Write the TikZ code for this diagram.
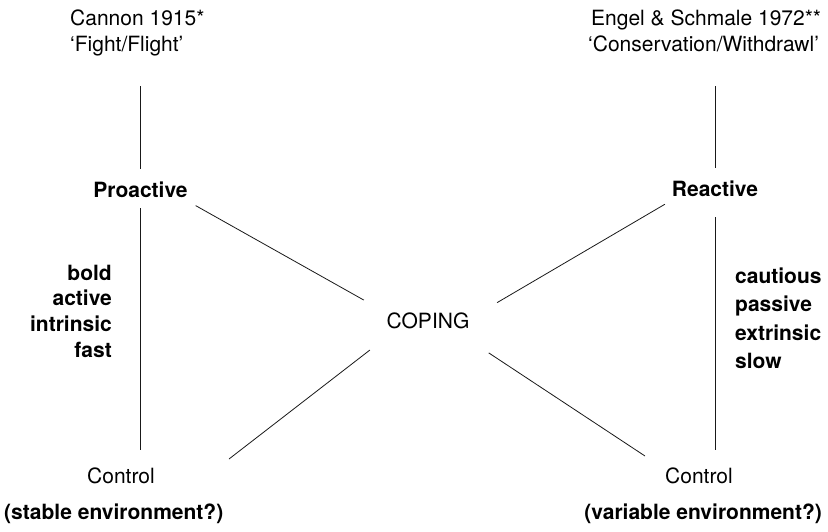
\documentclass[tikz,border=0pt]{standalone}
\usepackage{fontspec}
\setmainfont{TeX Gyre Heros}
\usepackage{tikz}
\usetikzlibrary{positioning}
\usepackage{xcolor}
\definecolor{cpline}{RGB}{25,25,25}
\tikzstyle{txt} = [inner sep=0pt, text height=15pt, text depth=4pt, font=\fontsize{21}{25}\selectfont]
\tikzstyle{txtbold} = [txt, font=\fontsize{21}{25}\selectfont\bfseries]
\tikzstyle{link} = [line width=0.8pt, color=cpline]

\begin{document}
\begin{tikzpicture}[x=1pt, y=-1pt]
    \useasboundingbox[fill=white] (0,0) rectangle (828,531);

    % Sources
    \node[txt, anchor=base west] (cannon) at (70,25) {Cannon 1915*};
    \node[txt, anchor=base west] (fight) at (70,51) {‘Fight/Flight’};
    \node[txt, anchor=base west] (engel) at (591,25) {Engel \& Schmale 1972**};
    \node[txt, anchor=base west] (conserv) at (588,51) {‘Conservation/Withdrawl’};

    % Styles
    \node[txtbold, anchor=base] (proactive) at (140.5,197) {Proactive};
    \node[txtbold, anchor=base] (reactive) at (715,196) {Reactive};
    \node[txt, anchor=base] (coping) at (428,328) {COPING};

    % Traits
    \foreach \w [count=\i from 0] in {bold,active,intrinsic,fast}
        \node[txtbold, anchor=base east] (pro\i) at ({112},{280+25.7*\i}) {\w};
    \foreach \w [count=\i from 0] in {cautious,passive,extrinsic,slow}
        \node[txtbold, anchor=base west] (rea\i) at ({735},{283+28.5*\i}) {\w};

    % Controls
    \node[txt, anchor=base] (ctrlL) at (121,483) {Control};
    \node[txt, anchor=base] (ctrlR) at (699,483) {Control};
    \node[txtbold, anchor=base west] (stable) at (4,519) {(stable environment?)};
    \node[txtbold, anchor=base east] (variable) at (822,519) {(variable environment?)};
    \coordinate (endL) at (229,459);
    \coordinate (endR) at (645,456);

    % Connections
    \draw[link, shorten <=31pt, shorten >=13pt] (fight.south -| proactive.north) -- (proactive.north);
    \draw[link, shorten <=31pt, shorten >=13pt] (conserv.south -| reactive.north) -- (reactive.north);
    \draw[link, shorten <=7pt, shorten >=18pt] (proactive.south) -- (ctrlL.north -| proactive.south);
    \draw[link, shorten <=17pt, shorten >=18pt] (reactive.south) -- (ctrlR.north -| reactive.south);
    \draw[link, shorten <=9pt, shorten >=26pt] (proactive.south east) -- (coping.north west);
    \draw[link, shorten <=8pt, shorten >=32pt] (reactive.south west) -- ([yshift=-6pt]coping.north east);
    \draw[link, shorten <=21pt] ([yshift=-5pt]coping.south west) -- (endL);
    \draw[link, shorten <=23pt] ([yshift=-8pt]coping.south east) -- (endR);
\end{tikzpicture}
\end{document}
